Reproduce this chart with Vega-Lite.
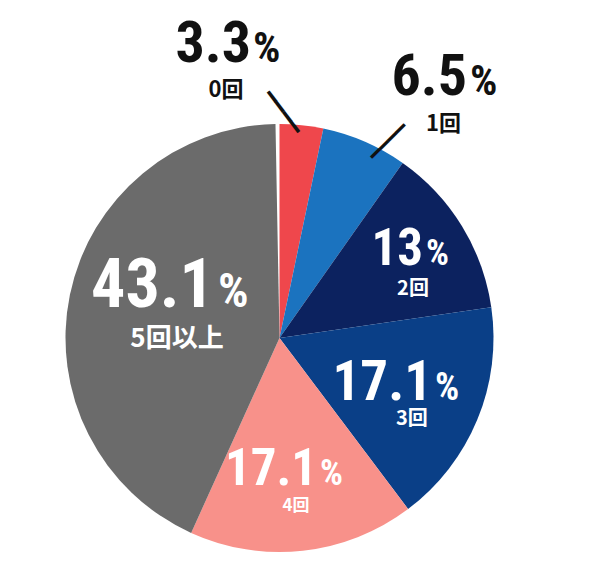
{
  "$schema": "https://vega.github.io/schema/vega-lite/v6.json",
  "width": 559,
  "height": 468,
  "autosize": {"type": "none"},
  "padding": {"left": 0, "right": 41, "top": 104, "bottom": 0},
  "background": "white",
  "config": {"view": {"stroke": null}},
  "data": {"values": [
    {"label": "0回", "pct": 3.3},
    {"label": "1回", "pct": 6.5},
    {"label": "2回", "pct": 13},
    {"label": "3回", "pct": 17.1},
    {"label": "4回", "pct": 17.1},
    {"label": "5回以上", "pct": 43.1}
  ]},
  "encoding": {
    "theta": {"field": "pct", "type": "quantitative", "stack": true, "scale": {"domain": [0, 100.4]}},
    "order": {"field": "label", "sort": "ascending"}
  },
  "layer": [
    {"mark": {"type": "arc", "outerRadius": 214},
     "encoding": {"color": {"field": "label", "type": "nominal", "legend": null,
       "scale": {"domain": ["0回", "1回", "2回", "3回", "4回", "5回以上"],
                 "range": ["#ef474c", "#1b73bf", "#0c225f", "#0a3f87", "#f8918a", "#6b6b6b"]}}}},

    {"mark": {"type": "text", "radius": 226, "dx": -12.8, "dy": 15.8, "angle": 52.9, "align": "center", "baseline": "middle", "font": "DejaVu Sans Mono", "fontSize": 21, "color": "#111111"},
     "encoding": {"text": {"condition": {"test": "datum.label === '0回'", "value": "━━━━"}, "value": ""}}},
    {"mark": {"type": "text", "radius": 225, "dx": 6.7, "dy": 20.6, "angle": -45, "align": "center", "baseline": "middle", "font": "DejaVu Sans Mono", "fontSize": 19.5, "color": "#111111"},
     "encoding": {"text": {"condition": {"test": "datum.label === '1回'", "value": "━━━━"}, "value": ""}}},

    {"mark": {"type": "text", "radius": 260, "dx": -55.3, "dy": -17.4, "align": "right", "baseline": "alphabetic", "font": "Roboto Condensed, Roboto, sans-serif", "fontWeight": "bold", "fontSize": 58, "color": "#111111"},
     "encoding": {"text": {"condition": {"test": "datum.label === '0回'", "field": "pct", "type": "quantitative", "format": "~g"}, "value": ""}}},
    {"mark": {"type": "text", "radius": 260, "dx": -53.3, "dy": -17.4, "align": "left", "baseline": "alphabetic", "font": "Roboto Condensed, Roboto, sans-serif", "fontWeight": "bold", "fontSize": 43, "color": "#111111"},
     "encoding": {"text": {"condition": {"test": "datum.label === '0回'", "value": "%"}, "value": ""}}},
    {"mark": {"type": "text", "radius": 260, "dx": -80.3, "dy": 17.6, "align": "center", "baseline": "alphabetic", "font": "Noto Sans CJK JP", "fontWeight": "bold", "fontSize": 22, "color": "#111111"},
     "encoding": {"text": {"condition": {"test": "datum.label === '0回'", "field": "label", "type": "nominal"}, "value": ""}}},

    {"mark": {"type": "text", "radius": 260, "dx": 83.9, "dy": -4.6, "align": "right", "baseline": "alphabetic", "font": "Roboto Condensed, Roboto, sans-serif", "fontWeight": "bold", "fontSize": 58, "color": "#111111"},
     "encoding": {"text": {"condition": {"test": "datum.label === '1回'", "field": "pct", "type": "quantitative", "format": "~g"}, "value": ""}}},
    {"mark": {"type": "text", "radius": 260, "dx": 86.9, "dy": -4.6, "align": "left", "baseline": "alphabetic", "font": "Roboto Condensed, Roboto, sans-serif", "fontWeight": "bold", "fontSize": 43, "color": "#111111"},
     "encoding": {"text": {"condition": {"test": "datum.label === '1回'", "value": "%"}, "value": ""}}},
    {"mark": {"type": "text", "radius": 260, "dx": 60.4, "dy": 31.4, "align": "center", "baseline": "alphabetic", "font": "Noto Sans CJK JP", "fontWeight": "bold", "fontSize": 22, "color": "#111111"},
     "encoding": {"text": {"condition": {"test": "datum.label === '1回'", "field": "label", "type": "nominal"}, "value": ""}}},

    {"mark": {"type": "text", "radius": 155, "dx": 11.4, "dy": 8.1, "align": "right", "baseline": "alphabetic", "font": "Roboto Condensed, Roboto, sans-serif", "fontWeight": "bold", "fontSize": 51, "color": "white"},
     "encoding": {"text": {"condition": {"test": "datum.label === '2回'", "field": "pct", "type": "quantitative", "format": "~g"}, "value": ""}}},
    {"mark": {"type": "text", "radius": 155, "dx": 14.4, "dy": 8.1, "align": "left", "baseline": "alphabetic", "font": "Roboto Condensed, Roboto, sans-serif", "fontWeight": "bold", "fontSize": 36, "color": "white"},
     "encoding": {"text": {"condition": {"test": "datum.label === '2回'", "value": "%"}, "value": ""}}},
    {"mark": {"type": "text", "radius": 155, "dx": 1.4, "dy": 38.6, "align": "center", "baseline": "alphabetic", "font": "Noto Sans CJK JP", "fontWeight": "bold", "fontSize": 20, "color": "white"},
     "encoding": {"text": {"condition": {"test": "datum.label === '2回'", "field": "label", "type": "nominal"}, "value": ""}}},

    {"mark": {"type": "text", "radius": 145, "dx": 18.4, "dy": 6.7, "align": "right", "baseline": "alphabetic", "font": "Roboto Condensed, Roboto, sans-serif", "fontWeight": "bold", "fontSize": 55, "color": "white"},
     "encoding": {"text": {"condition": {"test": "datum.label === '3回'", "field": "pct", "type": "quantitative", "format": "~g"}, "value": ""}}},
    {"mark": {"type": "text", "radius": 145, "dx": 21.4, "dy": 6.7, "align": "left", "baseline": "alphabetic", "font": "Roboto Condensed, Roboto, sans-serif", "fontWeight": "bold", "fontSize": 38, "color": "white"},
     "encoding": {"text": {"condition": {"test": "datum.label === '3回'", "value": "%"}, "value": ""}}},
    {"mark": {"type": "text", "radius": 145, "dx": -1.6, "dy": 32.2, "align": "center", "baseline": "alphabetic", "font": "Noto Sans CJK JP", "fontWeight": "bold", "fontSize": 20, "color": "white"},
     "encoding": {"text": {"condition": {"test": "datum.label === '3回'", "field": "label", "type": "nominal"}, "value": ""}}},

    {"mark": {"type": "text", "radius": 145, "dx": 21.7, "dy": 2.9, "align": "right", "baseline": "alphabetic", "font": "Roboto Condensed, Roboto, sans-serif", "fontWeight": "bold", "fontSize": 51, "color": "white"},
     "encoding": {"text": {"condition": {"test": "datum.label === '4回'", "field": "pct", "type": "quantitative", "format": "~g"}, "value": ""}}},
    {"mark": {"type": "text", "radius": 145, "dx": 24.7, "dy": 2.9, "align": "left", "baseline": "alphabetic", "font": "Roboto Condensed, Roboto, sans-serif", "fontWeight": "bold", "fontSize": 36, "color": "white"},
     "encoding": {"text": {"condition": {"test": "datum.label === '4回'", "value": "%"}, "value": ""}}},
    {"mark": {"type": "text", "radius": 145, "dx": 0.7, "dy": 28.4, "align": "center", "baseline": "alphabetic", "font": "Noto Sans CJK JP", "fontWeight": "bold", "fontSize": 17, "color": "white"},
     "encoding": {"text": {"condition": {"test": "datum.label === '4回'", "field": "label", "type": "nominal"}, "value": ""}}},

    {"mark": {"type": "text", "radius": 110, "dx": 42.2, "dy": -8.8, "align": "right", "baseline": "alphabetic", "font": "Roboto Condensed, Roboto, sans-serif", "fontWeight": "bold", "fontSize": 68, "color": "white"},
     "encoding": {"text": {"condition": {"test": "datum.label === '5回以上'", "field": "pct", "type": "quantitative", "format": "~g"}, "value": ""}}},
    {"mark": {"type": "text", "radius": 110, "dx": 46.2, "dy": -8.8, "align": "left", "baseline": "alphabetic", "font": "Roboto Condensed, Roboto, sans-serif", "fontWeight": "bold", "fontSize": 48, "color": "white"},
     "encoding": {"text": {"condition": {"test": "datum.label === '5回以上'", "value": "%"}, "value": ""}}},
    {"mark": {"type": "text", "radius": 110, "dx": 5.2, "dy": 31.7, "align": "center", "baseline": "alphabetic", "font": "Noto Sans CJK JP", "fontWeight": "bold", "fontSize": 26, "color": "white"},
     "encoding": {"text": {"condition": {"test": "datum.label === '5回以上'", "field": "label", "type": "nominal"}, "value": ""}}}
  ]
}
